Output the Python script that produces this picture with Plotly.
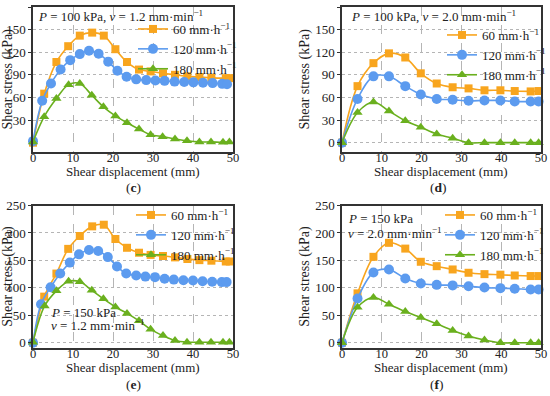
import plotly.graph_objects as go

# ---------------- data ----------------
# panel (c): P = 100 kPa, v = 1.2 mm/min
c_x60 = [0, 2.8, 5.85, 8.8, 11.7, 14.8, 17.7, 20.6, 23.5, 26.5, 29.4, 32.5, 35.5, 38.6, 41.6, 44.6, 48.2, 49.2]
c_y60 = [0, 65, 107, 128, 142, 146, 142, 124, 107, 97, 94.5, 92, 90, 88, 87, 86, 85.6, 85.6]
c_x120 = [0, 2.3, 4.5, 6.9, 9.3, 11.7, 14.0, 16.4, 18.8, 21.1, 23.4, 25.8, 28.3, 30.6, 32.9, 35.4, 37.8, 40.1, 42.5, 44.9, 47.3, 48.5]
c_y120 = [2, 55.6, 78.5, 97, 109.5, 117.5, 122, 118, 107.5, 95.5, 87.5, 84, 83, 82.5, 82, 81, 80.5, 80, 79.5, 79, 78, 77.5]
c_x180 = [0, 2.8, 5.85, 8.9, 11.7, 14.7, 17.6, 20.6, 23.5, 26.5, 29.4, 32.4, 35.5, 38.5, 41.6, 44.5, 47.5, 49.1]
c_y180 = [1, 34.5, 58.5, 77, 78.5, 63, 47.5, 35.5, 26.5, 18, 10.5, 8, 5, 2.5, 1, 1, 0.5, 1]

# panel (d): P = 100 kPa, v = 2.0 mm/min
d_x = [0, 3.9, 7.9, 11.8, 15.9, 19.8, 23.8, 27.8, 31.8, 35.8, 39.8, 43.4, 47.4, 49.4]
d_y60 = [0, 75, 105.5, 118.5, 113, 92, 78.5, 73.5, 72, 69.5, 69.5, 68.5, 68, 68.5]
d_y120 = [0, 58, 88, 88, 75, 64, 58, 57, 55.5, 56, 56, 54.5, 54.5, 54.5]
d_y180 = [0, 40, 54, 42, 29, 20.5, 11.5, 6, 0, 0, 0, 0, 0, 0]

# panel (e): P = 150 kPa, v = 1.2 mm/min
e_x60 = [0, 2.8, 5.85, 8.8, 11.7, 14.8, 17.7, 20.6, 23.5, 26.5, 29.4, 32.5, 35.5, 38.6, 41.6, 44.6, 48.2, 49.2]
e_y60 = [0, 84, 126, 171, 194.5, 212, 215, 189, 173, 164, 160, 158, 155.5, 152.5, 150.5, 149.5, 148, 148]
e_x120 = [0, 2.0, 4.4, 6.8, 9.2, 11.5, 14.0, 16.3, 18.7, 21.0, 23.3, 25.8, 28.1, 30.5, 32.9, 35.2, 37.6, 40.0, 42.4, 44.8, 47.2, 48.4]
e_y120 = [0, 70, 101, 126, 146, 161, 169, 167, 156, 139, 126, 122.5, 120.5, 119.5, 116.5, 115, 114, 113.5, 112, 111, 110.5, 110.5]
e_x180 = [0, 2.9, 5.85, 8.9, 11.7, 14.7, 17.6, 20.6, 23.5, 26.5, 29.4, 32.5, 35.5, 38.5, 41.6, 44.5, 47.5, 49.1]
e_y180 = [1, 67, 94.5, 112, 111, 95.5, 80, 65, 53.5, 40, 24.5, 13, 4, 1, 1, 1, 1, 1]

# panel (f): P = 150 kPa, v = 2.0 mm/min
f_x = [0, 3.9, 7.9, 11.8, 15.9, 19.8, 23.8, 27.8, 31.8, 35.8, 39.8, 43.4, 47.4, 49.4]
f_y60 = [0, 90, 156.5, 182, 171.5, 147.5, 139.5, 133.5, 127.5, 125, 124, 122.5, 121.5, 121.5]
f_y120 = [0, 80.5, 128, 133.5, 117, 108, 105.5, 104.5, 103, 100.5, 99.5, 98.5, 97, 97]
f_y180 = [0, 64.5, 82.5, 70, 57, 46, 34.5, 22.5, 12.5, 5, 0, 0, 0, 0]

series_names = ["60 mm·h<sup>−1</sup>", "120 mm·h<sup>−1</sup>", "180 mm·h<sup>−1</sup>"]
x_ticks = [0, 10, 20, 30, 40, 50]
y_ticks_c = [30, 60, 90, 120, 150, 180]
y_ticks_d = [0, 30, 60, 90, 120, 150, 180]
y_ticks_ef = [0, 50, 100, 150, 200, 250]
x_title = "Shear displacement (mm)"
y_title = "Shear stress (kPa)"

colors = ["#F8A51E", "#5C9BEF", "#6AB01E"]
symbols = ["square", "circle", "triangle-up"]
msizes = [8, 10, 9]

FONT = "Liberation Serif, Times New Roman, serif"

fig = go.Figure()

panels = [
    ("x", "y", "legend", [(c_x60, c_y60), (c_x120, c_y120), (c_x180, c_y180)]),
    ("x2", "y2", "legend2", [(d_x, d_y60), (d_x, d_y120), (d_x, d_y180)]),
    ("x3", "y3", "legend3", [(e_x60, e_y60), (e_x120, e_y120), (e_x180, e_y180)]),
    ("x4", "y4", "legend4", [(f_x, f_y60), (f_x, f_y120), (f_x, f_y180)]),
]

for xa, ya, lg, data in panels:
    for i, (xs, ys) in enumerate(data):
        fig.add_trace(go.Scatter(
            x=xs, y=ys, xaxis=xa, yaxis=ya, legend=lg,
            name=series_names[i], mode="lines+markers",
            line=dict(color=colors[i], width=1.6, shape="spline"),
            marker=dict(color=colors[i], symbol=symbols[i], size=msizes[i]),
            cliponaxis=False,
        ))

left_dom = [33 / 550, 233 / 550]
right_dom = [342 / 550, 541 / 550]
top_dom = [1 - 151.7 / 396, 1 - 7 / 396]
bot_dom = [1 - 347.7 / 396, 1 - 205.5 / 396]

def xaxis(dom, anchor):
    return dict(domain=dom, anchor=anchor, range=[0, 50], tickvals=x_ticks,
                showline=True, linecolor="#333333", linewidth=1.5, mirror=True,
                ticks="", ticklabelstandoff=-6,
                showgrid=True, gridcolor="#b5b5b5", griddash="dash", gridwidth=1,
                zeroline=False, automargin=False,
                tickfont=dict(family=FONT, size=12.5, color="#222"))

def yaxis(dom, anchor, rng, ticks):
    return dict(domain=dom, anchor=anchor, range=rng, tickvals=ticks,
                showline=True, linecolor="#333333", linewidth=1.5, mirror=True,
                ticks="outside", ticklen=3, tickcolor="#333333",
                showgrid=True, gridcolor="#b5b5b5", griddash="dot", gridwidth=1,
                zeroline=False, automargin=False,
                tickfont=dict(family=FONT, size=13, color="#222"),
                title=dict(text=y_title, standoff=2,
                           font=dict(family=FONT, size=14, color="#222")))

def legend(x, y):
    return dict(x=x, y=y, xanchor="left", yanchor="top", bgcolor="rgba(0,0,0,0)",
                font=dict(family=FONT, size=13, color="#222"), itemwidth=30,
                tracegroupgap=0)

fig.update_layout(
    width=550, height=396,
    margin=dict(l=0, r=0, t=0, b=0, autoexpand=False),
    paper_bgcolor="white", plot_bgcolor="white",
    xaxis=xaxis(left_dom, "y"),
    yaxis=yaxis(top_dom, "x", [-12, 180], y_ticks_c),
    xaxis2=xaxis(right_dom, "y2"),
    yaxis2=yaxis(top_dom, "x2", [-12, 180], y_ticks_d),
    xaxis3=xaxis(left_dom, "y3"),
    yaxis3=yaxis(bot_dom, "x3", [-9, 250], y_ticks_ef),
    xaxis4=xaxis(right_dom, "y4"),
    yaxis4=yaxis(bot_dom, "x4", [-9, 250], y_ticks_ef),
    legend=legend(133 / 550, 1 - 14 / 396),
    legend2=legend(442 / 550, 1 - 20 / 396),
    legend3=legend(131 / 550, 1 - 200 / 396),
    legend4=legend(440 / 550, 1 - 200 / 396),
    showlegend=True,
)

def ann(text, x, y, xanchor="left", size=13):
    fig.add_annotation(text=text, x=x, y=y, xref="paper", yref="paper",
                       xanchor=xanchor, yanchor="middle", showarrow=False,
                       font=dict(family=FONT, size=size, color="#222"))

# x-axis titles
ann(x_title, 133 / 550, 1 - 171.5 / 396, xanchor="center", size=13)
ann(x_title, 441 / 550, 1 - 171.5 / 396, xanchor="center", size=13)
ann(x_title, 133 / 550, 1 - 367.5 / 396, xanchor="center", size=13)
ann(x_title, 441 / 550, 1 - 367.5 / 396, xanchor="center", size=13)

ann("<i>P</i> = 100 kPa, <i>v</i> = 1.2 mm·min<sup>−1</sup>", 36 / 550, 1 - 16 / 396)
ann("<i>P</i> = 100 kPa, <i>v</i> = 2.0 mm·min<sup>−1</sup>", 349 / 550, 1 - 16 / 396)
ann("<i>P</i> = 150 kPa", 49 / 550, 1 - 312 / 396)
ann("<i>v</i> = 1.2 mm·min<sup>−1</sup>", 49 / 550, 1 - 325 / 396)
ann("<i>P</i> = 150 kPa", 346 / 550, 1 - 219 / 396)
ann("<i>v</i> = 2.0 mm·min<sup>−1</sup>", 346 / 550, 1 - 233 / 396)

ann("(<b>c</b>)", 133 / 550, 1 - 188 / 396, xanchor="center", size=13.5)
ann("(<b>d</b>)", 438 / 550, 1 - 188 / 396, xanchor="center", size=13.5)
ann("(<b>e</b>)", 133 / 550, 1 - 384 / 396, xanchor="center", size=13.5)
ann("(<b>f</b>)", 437 / 550, 1 - 384 / 396, xanchor="center", size=13.5)

fig.write_html("out.html", config={"displayModeBar": False},
               post_script="document.body.style.margin='0';")
